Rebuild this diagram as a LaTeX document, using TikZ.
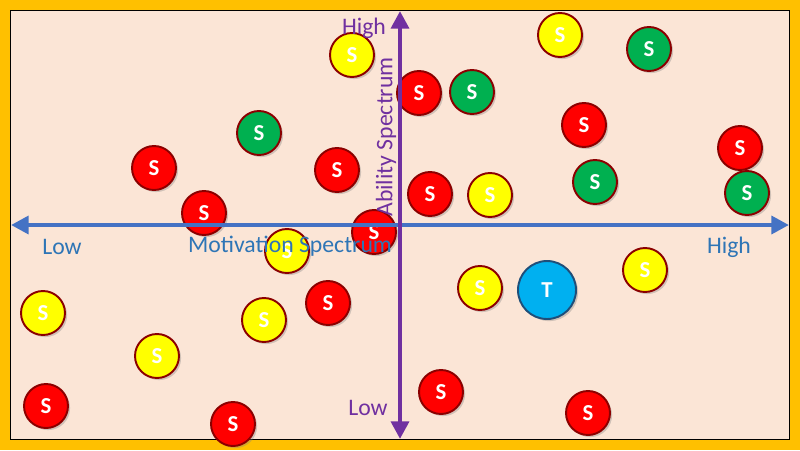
\documentclass[tikz,border=0pt]{standalone}
\usepackage{fontspec}
\setmainfont{Carlito}
\usepackage{xcolor}
\usepackage{tikz}
\usetikzlibrary{arrows.meta,shadows}

\definecolor{frameorange}{HTML}{FFC000}
\definecolor{peach}{HTML}{FBE5D6}
\definecolor{axisblue}{HTML}{4472C4}
\definecolor{textblue}{HTML}{2E75B6}
\definecolor{axispurple}{HTML}{7030A0}
\definecolor{sred}{HTML}{FF0000}
\definecolor{syellow}{HTML}{FFFF00}
\definecolor{sgreen}{HTML}{00B050}
\definecolor{tblue}{HTML}{00B0F0}
\definecolor{rimred}{HTML}{8B0000}
\definecolor{rimblue}{HTML}{1F4E79}

\begin{document}
\begin{tikzpicture}[
  x=0.02cm, y=-0.02cm,
  stud/.style={circle, draw=rimred, line width=1.1pt, minimum size=8.8mm, inner sep=0pt,
    text=white, font=\fontsize{13}{13}\selectfont\bfseries,
    drop shadow={shadow xshift=1.2pt, shadow yshift=-1.2pt, opacity=0.35}},
  redS/.style={stud, fill=sred},
  yellowS/.style={stud, fill=syellow},
  greenS/.style={stud, fill=sgreen},
  teach/.style={circle, draw=rimblue, line width=1.1pt, minimum size=11.6mm, inner sep=0pt,
    fill=tblue, text=white, font=\fontsize{13}{13}\selectfont\bfseries,
    drop shadow={shadow xshift=1.2pt, shadow yshift=-1.2pt, opacity=0.35}},
  axis/.style={line width=2.8pt, {Triangle[length=10pt,width=10pt]}-{Triangle[length=10pt,width=10pt]}},
  lbl/.style={font=\fontsize{13.5}{13.5}\selectfont}
]
\useasboundingbox (0,0) rectangle (800,450);
\fill[frameorange] (0,0) rectangle (800,450);
\draw[fill=peach, line width=1.1pt] (10.5,10.5) rectangle (789.5,439.5);

% students
\node[yellowS] (y1) at (352,55) {S};
\node[yellowS] (y2) at (560,35) {S};
\node[yellowS] (y3) at (490,195) {S};
\node[yellowS] (y4) at (287,251) {S};
\node[yellowS] (y5) at (645,270) {S};
\node[yellowS] (y6) at (480,288) {S};
\node[yellowS] (y7) at (43,313) {S};
\node[yellowS] (y8) at (264,320) {S};
\node[yellowS] (y9) at (157,356) {S};

\node[redS] (r1) at (419,93) {S};
\node[redS] (r2) at (584,125) {S};
\node[redS] (r3) at (154,168) {S};
\node[redS] (r4) at (337,170) {S};
\node[redS] (r5) at (740,148) {S};
\node[redS] (r6) at (430,194) {S};
\node[redS] (r7) at (204,213) {S};
\node[redS] (r8) at (374,232) {S};
\node[redS] (r9) at (328,303) {S};
\node[redS] (r10) at (441,392) {S};
\node[redS] (r11) at (46,406) {S};
\node[redS] (r12) at (233,424) {S};
\node[redS] (r13) at (588,413) {S};

\node[greenS] (g1) at (649,49) {S};
\node[greenS] (g2) at (472,92) {S};
\node[greenS] (g3) at (259,133) {S};
\node[greenS] (g4) at (595,182) {S};
\node[greenS] (g5) at (747,193) {S};

% teacher
\node[teach] (t) at (547,290) {T};

% axes
\coordinate (motlow) at (11,225);
\coordinate (mothigh) at (789,225);
\coordinate (abhigh) at (400,11);
\coordinate (ablow) at (400,439);
\draw[axis, axisblue] (motlow) -- (mothigh);
\draw[axis, axispurple] (ablow) -- (abhigh);

% labels
\node[lbl, text=textblue] (mlowlbl) at (62,247) {Low};
\node[lbl, text=textblue] (mlbl) at (290,246) {Motivation Spectrum};
\node[lbl, text=textblue] (mhighlbl) at (729,247) {High};
\node[lbl, text=axispurple] (ahighlbl) at (364,28) {High};
\node[lbl, text=axispurple] (alowlbl) at (368,408) {Low};
\node[lbl, text=axispurple, rotate=90] (albl) at (386,137) {Ability Spectrum};
\end{tikzpicture}
\end{document}
